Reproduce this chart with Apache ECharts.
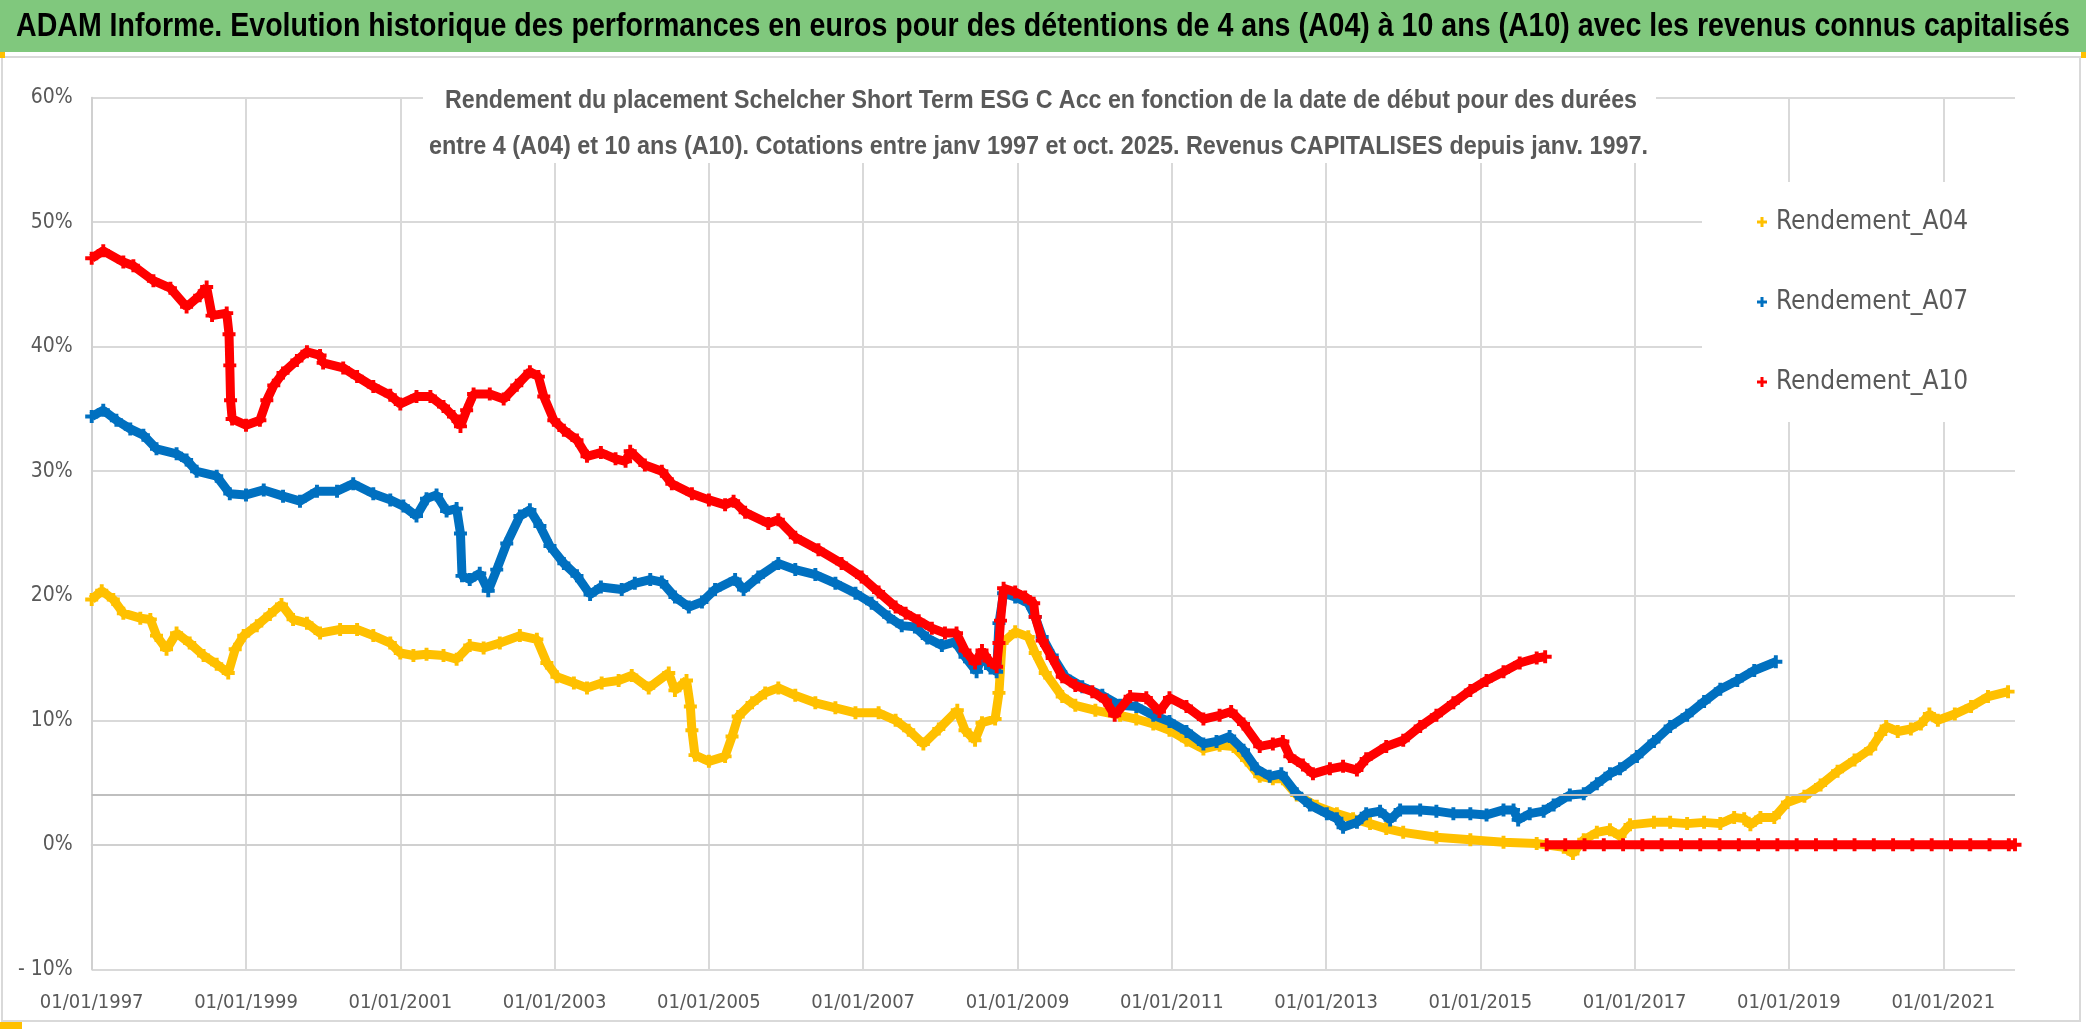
<!DOCTYPE html>
<html><head><meta charset="utf-8">
<script src="https://cdn.jsdelivr.net/npm/echarts@6/dist/echarts.min.js"></script>
<style>html,body{margin:0;padding:0;background:#fff;}#c{width:2086px;height:1032px;}</style>
</head><body><div id="c"></div>
<script>
// ---------------- DATA ----------------
const BASE_YEAR = 1997;
const xTickLabels = ['01/01/1997','01/01/1999','01/01/2001','01/01/2003','01/01/2005','01/01/2007','01/01/2009','01/01/2011','01/01/2013','01/01/2015','01/01/2017','01/01/2019','01/01/2021'];
const yTickLabels = ['- 10%','0%','10%','20%','30%','40%','50%','60%'];
const seriesNames = ['Rendement_A04','Rendement_A07','Rendement_A10'];
const mainTitle = 'ADAM Informe. Evolution historique des performances en euros pour des détentions de 4 ans (A04) à 10 ans (A10) avec les revenus connus capitalisés';
const subTitleLines = [
  'Rendement du placement Schelcher Short Term ESG C Acc en fonction de la date de début pour des durées',
  'entre 4 (A04) et 10 ans (A10). Cotations entre janv 1997 et oct. 2025. Revenus CAPITALISES depuis janv. 1997.'
];

const a04Years = [1997.00,1997.13,1997.28,1997.41,1997.63,1997.76,1997.84,1997.97,1998.10,1998.27,1998.45,1998.62,1998.77,1998.86,1998.97,1999.14,1999.31,1999.46,1999.61,1999.79,1999.96,2000.22,2000.44,2000.65,2000.87,2001.00,2001.17,2001.34,2001.56,2001.73,2001.90,2002.08,2002.29,2002.55,2002.77,2002.90,2003.03,2003.25,2003.42,2003.61,2003.83,2004.00,2004.22,2004.48,2004.56,2004.71,2004.76,2004.78,2004.82,2005.00,2005.21,2005.30,2005.38,2005.56,2005.73,2005.90,2006.12,2006.38,2006.64,2006.90,2007.20,2007.42,2007.59,2007.78,2007.98,2008.22,2008.32,2008.45,2008.54,2008.71,2008.76,2008.80,2008.97,2009.14,2009.23,2009.36,2009.58,2009.75,2010.01,2010.33,2010.54,2010.76,2010.97,2011.19,2011.41,2011.62,2011.80,2011.97,2012.14,2012.31,2012.44,2012.62,2012.88,2013.14,2013.35,2013.57,2013.78,2014.00,2014.43,2014.87,2015.30,2015.73,2016.08,2016.20,2016.34,2016.51,2016.68,2016.81,2016.94,2017.25,2017.46,2017.68,2017.90,2018.11,2018.29,2018.42,2018.50,2018.63,2018.81,2018.98,2019.20,2019.41,2019.63,2019.85,2020.06,2020.19,2020.26,2020.41,2020.58,2020.71,2020.82,2020.93,2021.15,2021.36,2021.58,2021.84];
const a04Values = [19.7,20.4,19.7,18.6,18.2,18.1,16.8,15.7,17.0,16.2,15.2,14.5,13.8,15.7,16.8,17.6,18.5,19.3,18.1,17.8,17.0,17.3,17.3,16.8,16.2,15.4,15.2,15.3,15.2,14.9,16.0,15.8,16.2,16.8,16.5,14.6,13.5,13.0,12.6,13.0,13.2,13.6,12.6,13.8,12.4,13.2,11.1,9.2,7.2,6.7,7.1,8.7,10.3,11.4,12.2,12.6,12.0,11.4,11.0,10.6,10.6,10.0,9.2,8.1,9.3,10.8,9.2,8.4,9.8,10.1,12.2,16.2,17.1,16.7,15.4,13.8,11.9,11.2,10.8,10.4,10.1,9.7,9.2,8.4,7.7,8.0,7.9,6.8,5.5,5.3,5.3,4.0,3.1,2.5,2.1,1.7,1.3,1.0,0.6,0.4,0.2,0.1,-0.2,-0.7,0.4,1.0,1.2,0.7,1.6,1.8,1.8,1.7,1.8,1.7,2.2,2.1,1.6,2.2,2.2,3.4,3.9,4.8,5.9,6.8,7.7,8.9,9.5,9.1,9.3,9.7,10.5,10.0,10.5,11.1,11.9,12.3];

const a07Years = [1997.00,1997.15,1997.32,1997.50,1997.67,1997.84,1998.10,1998.23,1998.36,1998.62,1998.79,1999.00,1999.23,1999.48,1999.70,1999.92,2000.18,2000.39,2000.65,2000.87,2001.04,2001.21,2001.34,2001.47,2001.60,2001.73,2001.78,2001.80,2001.90,2002.03,2002.14,2002.25,2002.38,2002.55,2002.68,2002.81,2002.94,2003.12,2003.29,2003.46,2003.60,2003.87,2004.04,2004.24,2004.39,2004.56,2004.74,2004.91,2005.08,2005.34,2005.45,2005.64,2005.90,2006.12,2006.38,2006.64,2006.90,2007.11,2007.33,2007.50,2007.67,2007.83,2008.02,2008.19,2008.32,2008.47,2008.54,2008.65,2008.73,2008.76,2008.82,2008.97,2009.14,2009.23,2009.32,2009.45,2009.62,2009.84,2010.10,2010.33,2010.54,2010.76,2010.97,2011.19,2011.41,2011.58,2011.75,2011.93,2012.10,2012.27,2012.42,2012.62,2012.79,2013.01,2013.14,2013.22,2013.40,2013.52,2013.70,2013.83,2013.96,2014.22,2014.43,2014.65,2014.87,2015.08,2015.30,2015.43,2015.49,2015.64,2015.82,2015.95,2016.16,2016.34,2016.51,2016.68,2016.81,2017.03,2017.25,2017.46,2017.68,2017.90,2018.11,2018.33,2018.55,2018.83];
const a07Values = [34.4,34.9,34.1,33.4,32.9,31.8,31.4,30.9,30.0,29.6,28.2,28.1,28.5,28.0,27.6,28.4,28.4,29.0,28.2,27.7,27.2,26.4,27.8,28.1,26.8,27.0,25.0,21.6,21.3,21.8,20.4,22.1,24.2,26.4,26.9,25.6,24.0,22.6,21.6,20.1,20.7,20.5,21.0,21.3,21.1,19.9,19.1,19.5,20.5,21.3,20.5,21.5,22.6,22.1,21.7,21.0,20.2,19.4,18.3,17.6,17.5,16.6,16.0,16.3,15.1,13.9,15.2,14.2,13.9,17.8,20.2,19.9,19.4,18.3,16.7,15.2,13.5,12.7,12.0,11.2,11.1,10.4,9.9,9.1,8.1,8.3,8.7,7.6,6.1,5.5,5.7,4.1,3.2,2.5,2.1,1.4,1.8,2.5,2.7,2.0,2.8,2.8,2.7,2.5,2.5,2.4,2.8,2.8,2.0,2.5,2.7,3.2,4.0,4.1,4.9,5.7,6.1,7.1,8.3,9.5,10.4,11.5,12.5,13.2,14.0,14.7];

const a10Years = [1997.00,1997.15,1997.41,1997.54,1997.80,1998.02,1998.23,1998.40,1998.49,1998.56,1998.75,1998.78,1998.79,1998.80,1998.82,1999.00,1999.18,1999.27,1999.36,1999.48,1999.66,1999.79,1999.96,2000.00,2000.26,2000.44,2000.65,2000.87,2001.00,2001.21,2001.39,2001.56,2001.69,2001.78,2001.86,2001.95,2002.16,2002.34,2002.51,2002.68,2002.79,2002.86,2002.99,2003.12,2003.29,2003.42,2003.60,2003.79,2003.92,2003.98,2004.17,2004.39,2004.52,2004.78,2005.00,2005.21,2005.32,2005.47,2005.77,2005.90,2006.12,2006.42,2006.72,2006.98,2007.20,2007.42,2007.55,2007.72,2007.89,2008.06,2008.21,2008.32,2008.45,2008.54,2008.63,2008.73,2008.76,2008.78,2008.82,2008.97,2009.10,2009.21,2009.23,2009.32,2009.45,2009.58,2009.75,2009.97,2010.14,2010.26,2010.46,2010.67,2010.84,2010.97,2011.19,2011.41,2011.62,2011.77,2011.93,2012.14,2012.31,2012.44,2012.53,2012.70,2012.83,2013.05,2013.22,2013.40,2013.52,2013.78,2014.00,2014.22,2014.43,2014.65,2014.87,2015.08,2015.30,2015.51,2015.73,2015.84];
const a10Values = [47.1,47.7,46.8,46.5,45.3,44.7,43.2,44.1,44.8,42.5,42.7,41.0,38.5,35.7,34.2,33.7,34.1,35.7,36.9,37.9,38.9,39.6,39.3,38.7,38.3,37.6,36.8,36.1,35.4,36.0,36.0,35.2,34.4,33.6,34.9,36.2,36.2,35.8,36.9,38.0,37.6,36.0,34.1,33.3,32.5,31.2,31.5,31.0,30.8,31.6,30.5,30.0,29.0,28.2,27.7,27.3,27.6,26.7,25.8,26.1,24.7,23.7,22.6,21.5,20.3,19.1,18.6,18.0,17.4,17.0,17.0,15.6,14.6,15.6,14.8,14.3,16.2,18.0,20.6,20.3,19.9,19.4,18.3,16.4,15.0,13.5,12.8,12.3,11.6,10.4,11.9,11.8,10.7,11.8,11.1,10.1,10.4,10.7,9.7,7.9,8.1,8.3,7.1,6.4,5.7,6.1,6.3,6.0,6.9,7.9,8.4,9.5,10.4,11.4,12.4,13.2,13.9,14.6,15.0,15.1];

// A10 has no 10-year result after late 2015: plotted at 0 in the source
const a10ZeroYears = [2015.86,2016.10,2016.35,2016.60,2016.85,2017.10,2017.35,2017.60,2017.85,2018.10,2018.35,2018.60,2018.85,2019.10,2019.35,2019.60,2019.85,2020.10,2020.35,2020.60,2020.85,2021.10,2021.35,2021.60,2021.85,2021.93];
const a10ZeroValues = [0,0,0,0,0,0,0,0,0,0,0,0,0,0,0,0,0,0,0,0,0,0,0,0,0,0];

const refLineValue = 4;

// ---------------- CHART ----------------
const FONT = "'DejaVu Sans Condensed','Liberation Sans Narrow',sans-serif";
const TFONT = "'Liberation Sans', Arial, sans-serif";
const PLUS = 'path://M3.5,0H6.5V3.5H10V6.5H6.5V10H3.5V6.5H0V3.5H3.5Z';
const COLORS = ['#FFC000','#0070C0','#FF0000'];

function pairs(xs, ys){ return xs.map((x,i)=>[x-BASE_YEAR, ys[i]]); }

// condensed text (Calibri-like): measure and squeeze horizontally to the target width
const mctx = document.createElement('canvas').getContext('2d');
function squeeze(text, size, weight, targetWidth){
  mctx.font = weight + ' ' + size + 'px ' + TFONT;
  const w = mctx.measureText(text).width;
  return Math.min(1, targetWidth / w);
}
function condText(text, cx, cy, size, weight, color, targetWidth){
  const s = squeeze(text, size, weight, targetWidth);
  return {type:'text', x:cx, y:cy, scaleX:s, scaleY:1, z:5,
    style:{text, fill:color, fontFamily:TFONT, fontSize:size, fontWeight:weight, align:'center', verticalAlign:'middle'}};
}

function lineSeries(name, color, data, z, extra){
  return Object.assign({
    name, type:'line', data, z,
    symbol: PLUS, symbolSize: 13, showAllSymbol: true,
    lineStyle:{width:9,color}, itemStyle:{color},
    emphasis:{disabled:true}, animation:false, silent:true
  }, extra||{});
}

const chart = echarts.init(document.getElementById('c'), null, {renderer:'canvas'});
chart.setOption({
  backgroundColor:'#ffffff',
  animation:false,
  graphic:[
    {type:'rect', shape:{x:0,y:0,width:2086,height:52}, style:{fill:'#80C87D'}, z:0},
    {type:'rect', shape:{x:2,y:57,width:2078,height:964}, style:{fill:'none',stroke:'#d9d9d9',lineWidth:2}, z:0},
    {type:'rect', shape:{x:0,y:52,width:5,height:6}, style:{fill:'#FFC000'}, z:1},
    {type:'rect', shape:{x:2081,y:52,width:5,height:6}, style:{fill:'#FFC000'}, z:1},
    {type:'rect', shape:{x:0,y:1022,width:22,height:7}, style:{fill:'#FFC000'}, z:1},
    {type:'rect', shape:{x:423,y:66,width:1233,height:97}, style:{fill:'#ffffff'}, z:1},
    {type:'rect', shape:{x:1702,y:182,width:313,height:240}, style:{fill:'#ffffff'}, z:1},
    condText(mainTitle, 1043, 27, 34, 'bold', '#000000', 2054),
    condText(subTitleLines[0], 1041, 101, 26, 'bold', '#595959', 1192),
    condText(subTitleLines[1], 1038.5, 147, 26, 'bold', '#595959', 1219)
  ],
  legend:{
    orient:'vertical', left:1757, top:207, padding:0,
    itemGap:50, itemWidth:10, itemHeight:10, icon:PLUS,
    data: seriesNames,
    selectedMode:false,
    textStyle:{fontFamily:FONT,fontSize:26,color:'#595959',lineHeight:30,padding:[0,0,0,4]}
  },
  grid:{left:91.7, right:71, top:97.7, bottom:62.7, containLabel:false},
  xAxis:{
    type:'value', min:0, max:24.93, interval:2,
    axisLine:{show:true,lineStyle:{color:'#d0d0d0',width:2}},
    axisTick:{show:false},
    splitLine:{show:true, showMaxLine:false, lineStyle:{color:'#d9d9d9',width:2}},
    axisLabel:{
      showMaxLabel:false, margin:23,
      fontFamily:FONT, fontSize:20, color:'#595959',
      formatter:(v)=>{ const i=Math.round(v/2); return (Math.abs(v-2*i)<1e-6 && xTickLabels[i]) ? xTickLabels[i] : ''; }
    }
  },
  yAxis:{
    type:'value', min:-10, max:60, interval:10,
    axisLine:{show:true,lineStyle:{color:'#d0d0d0',width:2}},
    axisTick:{show:false},
    splitLine:{show:true, lineStyle:{color:'#d9d9d9',width:2}},
    axisLabel:{
      margin:19, fontFamily:FONT, fontSize:21, color:'#595959',
      formatter:(v)=>{ const i=Math.round((v+10)/10); return yTickLabels[i]||''; }
    }
  },
  series:[
    lineSeries(seriesNames[0], COLORS[0], pairs(a04Years,a04Values), 2, {
      markLine:{silent:true, symbol:'none', label:{show:false},
        lineStyle:{color:'#bfbfbf',width:2,type:'solid'},
        emphasis:{disabled:true},
        data:[{yAxis:refLineValue}]}
    }),
    lineSeries(seriesNames[1], COLORS[1], pairs(a07Years,a07Values), 3),
    lineSeries(seriesNames[2], COLORS[2], pairs(a10Years,a10Values), 4),
    lineSeries(seriesNames[2], COLORS[2], pairs(a10ZeroYears,a10ZeroValues), 4)
  ]
});
</script></body></html>
